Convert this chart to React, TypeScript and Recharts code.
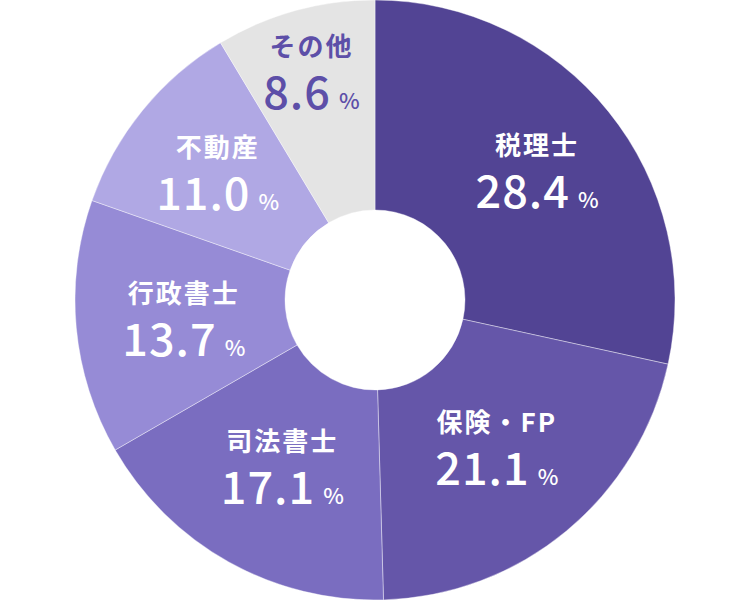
import React from "react";
import { PieChart, Pie, Cell } from "recharts";

const categories = ["税理士", "保険・FP", "司法書士", "行政書士", "不動産", "その他"];
const shares = [28.4, 21.1, 17.1, 13.7, 11.0, 8.6];

const sliceColors = ["#524494", "#6556A9", "#7A6DC0", "#968BD6", "#B0A8E4", "#E4E4E4"];
const labelColors = ["#ffffff", "#ffffff", "#ffffff", "#ffffff", "#ffffff", "#5D4FA8"];
const labelRadius = [208, 191, 190, 192, 203, 238];

const data = categories.map((name, i) => ({ name, value: shares[i] }));

const RAD = Math.PI / 180;
const FONT = '"Noto Sans CJK JP", "Noto Sans", sans-serif';

const renderLabel = (props: any) => {
  const { cx, cy, midAngle, index, value, name } = props;
  const r = labelRadius[index];
  const x = cx + r * Math.cos(-midAngle * RAD);
  const y = cy + r * Math.sin(-midAngle * RAD);
  const color = labelColors[index];
  return (
    <g>
      <text
        x={x}
        y={y - 15}
        textAnchor="middle"
        fill={color}
        fontFamily={FONT}
        fontWeight={700}
        fontSize={26}
        letterSpacing={2}
      >
        {name}
      </text>
      <text x={x} y={y + 38} textAnchor="middle" fill={color} fontFamily={FONT} fontWeight={500}>
        <tspan fontSize={45} letterSpacing={1}>{Number(value).toFixed(1)}</tspan>
        <tspan fontSize={22} dx={8}>%</tspan>
      </text>
    </g>
  );
};

export default function App() {
  return (
    <div style={{ position: "absolute", left: 0, top: 0, width: 750, height: 600, background: "#fff" }}>
      <PieChart width={750} height={600} margin={{ top: 0, right: 0, bottom: 0, left: 0 }}>
        <Pie
          data={data}
          dataKey="value"
          nameKey="name"
          cx={375}
          cy={300}
          innerRadius={90}
          outerRadius={300}
          startAngle={90}
          endAngle={-270}
          stroke="#ffffff"
          strokeWidth={0.4}
          label={renderLabel}
          labelLine={false}
          isAnimationActive={false}
        >
          {data.map((d, i) => (
            <Cell key={d.name} fill={sliceColors[i]} />
          ))}
        </Pie>
      </PieChart>
    </div>
  );
}
